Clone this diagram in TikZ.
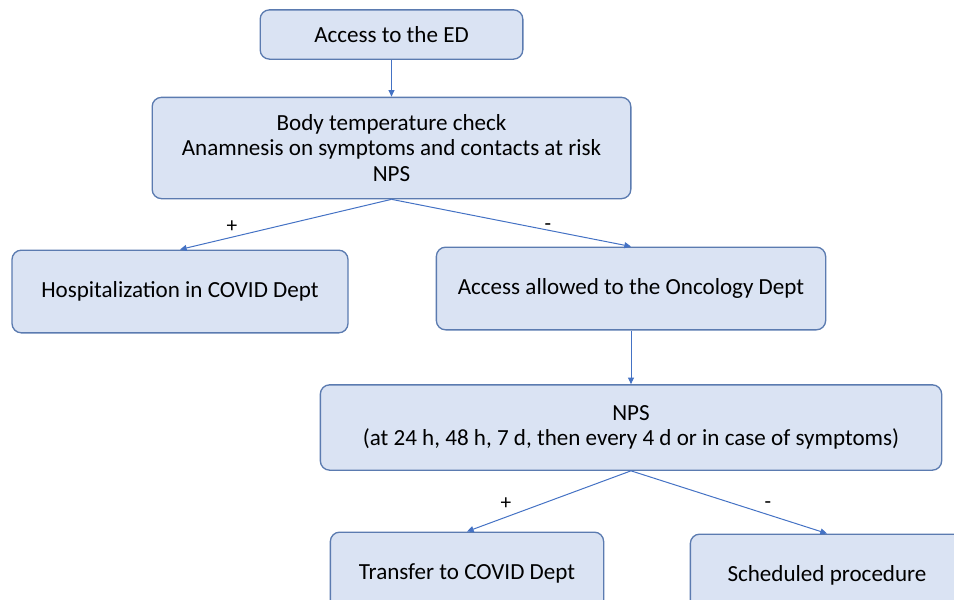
\documentclass[tikz,border=0pt]{standalone}
\usepackage{fontspec}
\setmainfont{Carlito}
\usetikzlibrary{arrows.meta}
\definecolor{boxfill}{HTML}{DAE3F3}
\definecolor{boxline}{HTML}{5B7BB0}
\definecolor{linkblue}{HTML}{4472C4}
\begin{document}
\begin{tikzpicture}[
    x=0.75pt, y=-0.75pt,
    flowbox/.style={draw=boxline, fill=boxfill, line width=1pt, rounded corners=7pt,
        font=\fontsize{17.3}{19.3}\selectfont, align=center, inner sep=2pt},
    link/.style={draw=linkblue, line width=0.75pt, -{Triangle[length=5pt,width=4.5pt]}},
    signnode/.style={font=\fontsize{16}{19}\selectfont}
]
% Frame
\useasboundingbox (0,0) rectangle (954,600);
\clip (0,0) rectangle (954,600);
% Boxes
\node[flowbox, minimum width=197pt, minimum height=37pt] (ed) at (391.5,34.5) {Access to the ED};
\node[flowbox, minimum width=359pt, minimum height=76pt] (check) at (391.5,148)
    {Body temperature check\\Anamnesis on symptoms and contacts at risk\\NPS};
\node[flowbox, minimum width=252pt, minimum height=62pt] (hosp) at (180,291.5) {Hospitalization in COVID Dept};
\node[flowbox, minimum width=292pt, minimum height=62pt] (onco) at (631,288.5) {Access allowed to the Oncology Dept};
\node[flowbox, minimum width=466pt, minimum height=64pt] (nps) at (631,427.5)
    {NPS\\(at 24 h, 48 h, 7 d, then every 4 d or in case of symptoms)};
\node[flowbox, minimum width=205pt, minimum height=62pt] (transfer) at (467,573.5) {Transfer to COVID Dept};
\node[flowbox, minimum width=205pt, minimum height=62pt] (sched) at (827,575.5) {Scheduled procedure};
% Connectors
\draw[link] (ed.south) -- (check.north);
\draw[link] (check.south) -- (hosp.north);
\draw[link] (check.south) -- (onco.north);
\draw[link] (onco.south) -- (nps.north);
\draw[link] (nps.south) -- (transfer.north);
\draw[link] (nps.south) -- (sched.north);
% Signs
\node[signnode] (hospsign) at (232,227) {+};
\node[signnode] (oncosign) at (548,227) {-};
\node[signnode] (transfersign) at (506,504) {+};
\node[signnode] (schedsign) at (768,505) {-};
\end{tikzpicture}
\end{document}
